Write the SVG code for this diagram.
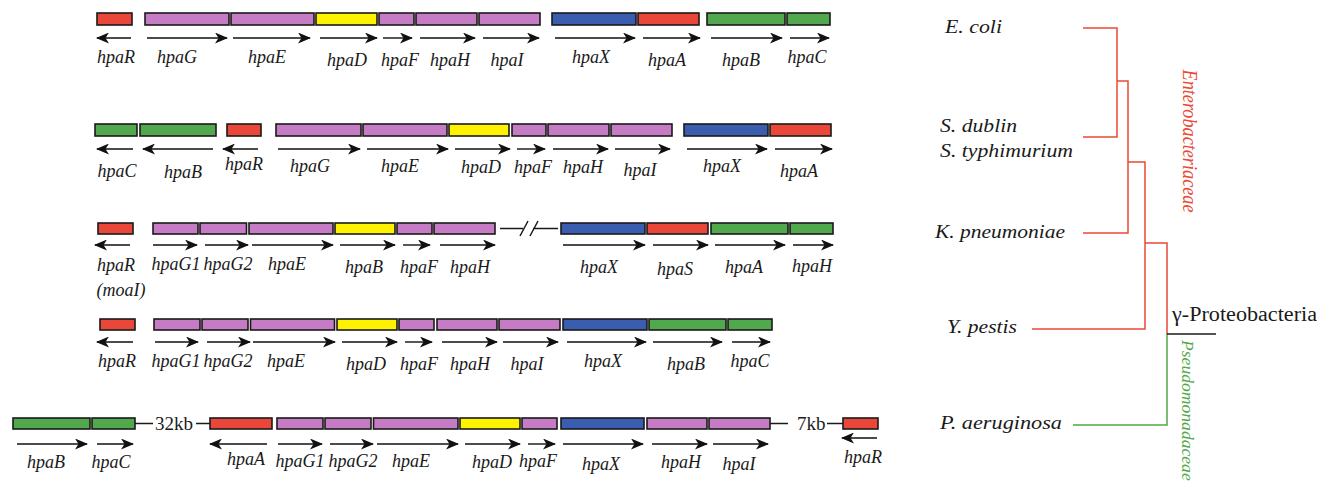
<svg xmlns="http://www.w3.org/2000/svg" width="1319" height="486" viewBox="0 0 1319 486">
<defs>
<marker id="ah" viewBox="0 0 13 11" refX="12" refY="5.5" markerWidth="13" markerHeight="11" markerUnits="userSpaceOnUse" orient="auto">
<path d="M0,0 L13,5.5 L0,11 L3.5,5.5 z" fill="#111"/>
</marker>
<style>
.box{stroke:#1a1a1a;stroke-width:1.6}
.r{fill:#e8473a}.p{fill:#c57cc4}.y{fill:#fff200}.b{fill:#3a5db0}.g{fill:#52a94d}
.arr{stroke:#111;stroke-width:1.4;fill:none;marker-end:url(#ah)}
.lbl{font-family:'Liberation Serif','Times New Roman',serif;font-style:italic;font-size:18px;text-anchor:middle;fill:#1a1a1a}
.kb{font-family:'Liberation Serif','Times New Roman',serif;font-size:19px;fill:#1a1a1a}
.sp{font-family:'Liberation Serif','Times New Roman',serif;font-style:italic;font-size:19px;fill:#1a1a1a}
.vt{font-family:'Liberation Serif','Times New Roman',serif;font-style:italic;font-size:21px}
.ln{stroke:#1a1a1a;stroke-width:1.5;fill:none}
.tr{stroke:#e84a35;stroke-width:1.5;fill:none}
.tg{stroke:#52a84a;stroke-width:1.5;fill:none}
</style>
</defs>
<rect width="1319" height="486" fill="#fff"/>

<!-- Row 1 -->
<g id="r1-hpaR"><rect class="box r" x="97" y="13" width="35" height="12"/><path class="arr" d="M131,38 H97"/><text class="lbl" x="116" y="63">hpaR</text></g>
<g id="r1-hpaG"><rect class="box p" x="145" y="13" width="84" height="12"/><path class="arr" d="M147,38 H227"/><text class="lbl" x="177" y="63">hpaG</text></g>
<g id="r1-hpaE"><rect class="box p" x="231" y="13" width="83" height="12"/><path class="arr" d="M233,38 H310"/><text class="lbl" x="267" y="63">hpaE</text></g>
<g id="r1-hpaD"><rect class="box y" x="316" y="13" width="61" height="12"/><path class="arr" d="M320,38 H377"/><text class="lbl" x="347" y="66">hpaD</text></g>
<g id="r1-hpaF"><rect class="box p" x="379" y="13" width="35" height="12"/><path class="arr" d="M383,38 H412"/><text class="lbl" x="400" y="66">hpaF</text></g>
<g id="r1-hpaH"><rect class="box p" x="416" y="13" width="61" height="12"/><path class="arr" d="M420,38 H475"/><text class="lbl" x="450" y="66">hpaH</text></g>
<g id="r1-hpaI"><rect class="box p" x="479" y="13" width="61" height="12"/><path class="arr" d="M483,38 H539"/><text class="lbl" x="507" y="66">hpaI</text></g>
<g id="r1-hpaX"><rect class="box b" x="552" y="13" width="84" height="12"/><path class="arr" d="M555,38 H635"/><text class="lbl" x="591" y="63">hpaX</text></g>
<g id="r1-hpaA"><rect class="box r" x="638" y="13" width="61" height="12"/><path class="arr" d="M643,38 H700"/><text class="lbl" x="667" y="66">hpaA</text></g>
<g id="r1-hpaB"><rect class="box g" x="707" y="13" width="78" height="12"/><path class="arr" d="M711,38 H782"/><text class="lbl" x="741" y="66">hpaB</text></g>
<g id="r1-hpaC"><rect class="box g" x="787" y="13" width="43" height="12"/><path class="arr" d="M790,38 H829"/><text class="lbl" x="807" y="63">hpaC</text></g>

<!-- Row 2 -->
<g id="r2-hpaC"><rect class="box g" x="95" y="124" width="42" height="12"/><path class="arr" d="M133,149 H97"/><text class="lbl" x="117" y="177">hpaC</text></g>
<g id="r2-hpaB"><rect class="box g" x="140" y="124" width="76" height="12"/><path class="arr" d="M213,149 H143"/><text class="lbl" x="183" y="178">hpaB</text></g>
<g id="r2-hpaR"><rect class="box r" x="227" y="124" width="34" height="12"/><path class="arr" d="M258,149 H223"/><text class="lbl" x="244" y="170">hpaR</text></g>
<g id="r2-hpaG"><rect class="box p" x="276" y="124" width="85" height="12"/><path class="arr" d="M278,149 H360"/><text class="lbl" x="310" y="172">hpaG</text></g>
<g id="r2-hpaE"><rect class="box p" x="363" y="124" width="84" height="12"/><path class="arr" d="M367,149 H448"/><text class="lbl" x="400" y="172">hpaE</text></g>
<g id="r2-hpaD"><rect class="box y" x="449" y="124" width="60" height="12"/><path class="arr" d="M455,149 H510"/><text class="lbl" x="481" y="173">hpaD</text></g>
<g id="r2-hpaF"><rect class="box p" x="512" y="124" width="34" height="12"/><path class="arr" d="M517,149 H545"/><text class="lbl" x="533" y="173">hpaF</text></g>
<g id="r2-hpaH"><rect class="box p" x="548" y="124" width="61" height="12"/><path class="arr" d="M553,149 H608"/><text class="lbl" x="583" y="173">hpaH</text></g>
<g id="r2-hpaI"><rect class="box p" x="611" y="124" width="61" height="12"/><path class="arr" d="M615,149 H670"/><text class="lbl" x="640" y="176">hpaI</text></g>
<g id="r2-hpaX"><rect class="box b" x="684" y="124" width="84" height="12"/><path class="arr" d="M687,149 H767"/><text class="lbl" x="722" y="172">hpaX</text></g>
<g id="r2-hpaA"><rect class="box r" x="770" y="124" width="61" height="12"/><path class="arr" d="M775,149 H832"/><text class="lbl" x="799" y="177">hpaA</text></g>

<!-- Row 3 -->
<g id="r3-hpaR"><rect class="box r" x="98" y="223" width="35" height="11"/><path class="arr" d="M130,245 H95"/><text class="lbl" x="116" y="271">hpaR</text><text class="lbl" x="121" y="296">(moaI)</text></g>
<g id="r3-hpaG1"><rect class="box p" x="153" y="223" width="45" height="11"/><path class="arr" d="M153,245 H197"/><text class="lbl" x="176" y="270">hpaG1</text></g>
<g id="r3-hpaG2"><rect class="box p" x="200" y="223" width="46.5" height="11"/><path class="arr" d="M205,245 H248"/><text class="lbl" x="228" y="270">hpaG2</text></g>
<g id="r3-hpaE"><rect class="box p" x="249" y="223" width="84" height="11"/><path class="arr" d="M252,245 H333"/><text class="lbl" x="287" y="270">hpaE</text></g>
<g id="r3-hpaB"><rect class="box y" x="335" y="223" width="60" height="11"/><path class="arr" d="M340,245 H395"/><text class="lbl" x="364" y="273">hpaB</text></g>
<g id="r3-hpaF"><rect class="box p" x="397" y="223" width="35" height="11"/><path class="arr" d="M403,245 H430"/><text class="lbl" x="419" y="273">hpaF</text></g>
<g id="r3-hpaH"><rect class="box p" x="434" y="223" width="61" height="11"/><path class="arr" d="M440,245 H495"/><text class="lbl" x="470" y="273">hpaH</text></g>
<g id="r3-break"><path class="ln" d="M500,228.5 H523 M533,228.5 H558 M520,236 L528,221 M530,236 L538,221"/></g>
<g id="r3-hpaX"><rect class="box b" x="561" y="223" width="84" height="11"/><path class="arr" d="M563,245 H645"/><text class="lbl" x="599" y="273">hpaX</text></g>
<g id="r3-hpaS"><rect class="box r" x="647" y="223" width="61" height="11"/><path class="arr" d="M653,245 H708"/><text class="lbl" x="675" y="275">hpaS</text></g>
<g id="r3-hpaA"><rect class="box g" x="711" y="223" width="77" height="11"/><path class="arr" d="M715,245 H785"/><text class="lbl" x="744" y="273">hpaA</text></g>
<g id="r3-hpaH2"><rect class="box g" x="790" y="223" width="43" height="11"/><path class="arr" d="M793,245 H833"/><text class="lbl" x="812" y="272">hpaH</text></g>

<!-- Row 4 -->
<g id="r4-hpaR"><rect class="box r" x="100" y="319" width="35" height="11"/><path class="arr" d="M133,342 H97"/><text class="lbl" x="117" y="367">hpaR</text></g>
<g id="r4-hpaG1"><rect class="box p" x="154" y="319" width="46" height="11"/><path class="arr" d="M155,342 H198"/><text class="lbl" x="176" y="367">hpaG1</text></g>
<g id="r4-hpaG2"><rect class="box p" x="202" y="319" width="46" height="11"/><path class="arr" d="M207,342 H250"/><text class="lbl" x="228" y="367">hpaG2</text></g>
<g id="r4-hpaE"><rect class="box p" x="250.5" y="319" width="84" height="11"/><path class="arr" d="M253,342 H335"/><text class="lbl" x="286" y="367">hpaE</text></g>
<g id="r4-hpaD"><rect class="box y" x="337" y="319" width="60" height="11"/><path class="arr" d="M342,342 H397"/><text class="lbl" x="366" y="370">hpaD</text></g>
<g id="r4-hpaF"><rect class="box p" x="399" y="319" width="35" height="11"/><path class="arr" d="M405,342 H432"/><text class="lbl" x="419" y="370">hpaF</text></g>
<g id="r4-hpaH"><rect class="box p" x="437" y="319" width="60" height="11"/><path class="arr" d="M442,342 H497"/><text class="lbl" x="470" y="370">hpaH</text></g>
<g id="r4-hpaI"><rect class="box p" x="499" y="319" width="61" height="11"/><path class="arr" d="M503,342 H558"/><text class="lbl" x="527" y="370">hpaI</text></g>
<g id="r4-hpaX"><rect class="box b" x="563" y="319" width="84" height="11"/><path class="arr" d="M567,342 H646"/><text class="lbl" x="603" y="367">hpaX</text></g>
<g id="r4-hpaB"><rect class="box g" x="649" y="319" width="77" height="11"/><path class="arr" d="M653,342 H722"/><text class="lbl" x="686" y="370">hpaB</text></g>
<g id="r4-hpaC"><rect class="box g" x="728" y="319" width="44" height="11"/><path class="arr" d="M732,342 H770"/><text class="lbl" x="750" y="367">hpaC</text></g>

<!-- Row 5 -->
<g id="r5-hpaB"><rect class="box g" x="13" y="418" width="77" height="11"/><path class="arr" d="M17,444 H87"/><text class="lbl" x="46" y="468">hpaB</text></g>
<g id="r5-hpaC"><rect class="box g" x="92" y="418" width="43" height="11"/><path class="arr" d="M97,444 H133"/><text class="lbl" x="111" y="468">hpaC</text></g>
<g id="r5-gap32"><path class="ln" d="M135,423.5 H153 M196,423.5 H210"/><text class="kb" x="155" y="430">32kb</text></g>
<g id="r5-hpaA"><rect class="box r" x="210" y="418" width="62" height="11"/><path class="arr" d="M267,444 H210"/><text class="lbl" x="246" y="465">hpaA</text></g>
<g id="r5-hpaG1"><rect class="box p" x="277" y="418" width="46" height="11"/><path class="arr" d="M278,444 H322"/><text class="lbl" x="300" y="467">hpaG1</text></g>
<g id="r5-hpaG2"><rect class="box p" x="325" y="418" width="46" height="11"/><path class="arr" d="M330,444 H373"/><text class="lbl" x="353" y="467">hpaG2</text></g>
<g id="r5-hpaE"><rect class="box p" x="373.5" y="418" width="84.5" height="11"/><path class="arr" d="M377,444 H458"/><text class="lbl" x="411" y="467">hpaE</text></g>
<g id="r5-hpaD"><rect class="box y" x="460" y="418" width="60" height="11"/><path class="arr" d="M465,444 H520"/><text class="lbl" x="492" y="468">hpaD</text></g>
<g id="r5-hpaF"><rect class="box p" x="522" y="418" width="35" height="11"/><path class="arr" d="M528,444 H555"/><text class="lbl" x="538" y="467">hpaF</text></g>
<g id="r5-hpaX"><rect class="box b" x="561" y="418" width="83" height="11"/><path class="arr" d="M563,444 H643"/><text class="lbl" x="601" y="470">hpaX</text></g>
<g id="r5-hpaH"><rect class="box p" x="647" y="418" width="60" height="11"/><path class="arr" d="M652,444 H707"/><text class="lbl" x="681" y="468">hpaH</text></g>
<g id="r5-hpaI"><rect class="box p" x="709" y="418" width="61" height="11"/><path class="arr" d="M713,444 H768"/><text class="lbl" x="739" y="470">hpaI</text></g>
<g id="r5-gap7"><path class="ln" d="M770,423.5 H788 M827,423.5 H843"/><text class="kb" x="797" y="430">7kb</text></g>
<g id="r5-hpaR"><rect class="box r" x="843" y="418" width="35" height="11"/><path class="arr" d="M877,438 H842"/><text class="lbl" x="863" y="463">hpaR</text></g>

<!-- Tree connectors -->
<g id="connectors">
<path class="tr" d="M1083,28 H1117 V137 H1083"/>
<path class="tr" d="M1117,81 H1128 V233 H1083"/>
<path class="tr" d="M1128,162 H1145 V329 H1032"/>
<path class="tr" d="M1145,243 H1167 V334"/>
<path class="tg" d="M1167,334 V425 H1073"/>
<path class="ln" d="M1167,334 H1216"/>
</g>

<!-- Tree labels -->
<g id="t-ecoli"><text class="sp" x="945" y="33" textLength="57" lengthAdjust="spacingAndGlyphs">E. coli</text></g>
<g id="t-sdublin"><text class="sp" x="940" y="132" textLength="77" lengthAdjust="spacingAndGlyphs">S. dublin</text></g>
<g id="t-styph"><text class="sp" x="940" y="157" textLength="133" lengthAdjust="spacingAndGlyphs">S. typhimurium</text></g>
<g id="t-kpneu"><text class="sp" x="935" y="238" textLength="130" lengthAdjust="spacingAndGlyphs">K. pneumoniae</text></g>
<g id="t-ypestis"><text class="sp" x="947" y="333" textLength="70" lengthAdjust="spacingAndGlyphs">Y. pestis</text></g>
<g id="t-paeru"><text class="sp" x="940" y="429" textLength="122" lengthAdjust="spacingAndGlyphs">P. aeruginosa</text></g>
<g id="t-gamma"><text class="kb" x="1172" y="321" textLength="145" lengthAdjust="spacingAndGlyphs" style="font-size:20px">γ-Proteobacteria</text></g>
<g id="t-entero"><text class="vt" transform="translate(1183,141) rotate(90)" x="0" y="0" text-anchor="middle" fill="#e84a35" textLength="143" lengthAdjust="spacingAndGlyphs">Enterobacteriaceae</text></g>
<g id="t-pseudo"><text class="vt" transform="translate(1182,340) rotate(90)" x="0" y="0" fill="#4fa848" style="font-size:17.6px">Pseudomonadaceae</text></g>
</svg>
